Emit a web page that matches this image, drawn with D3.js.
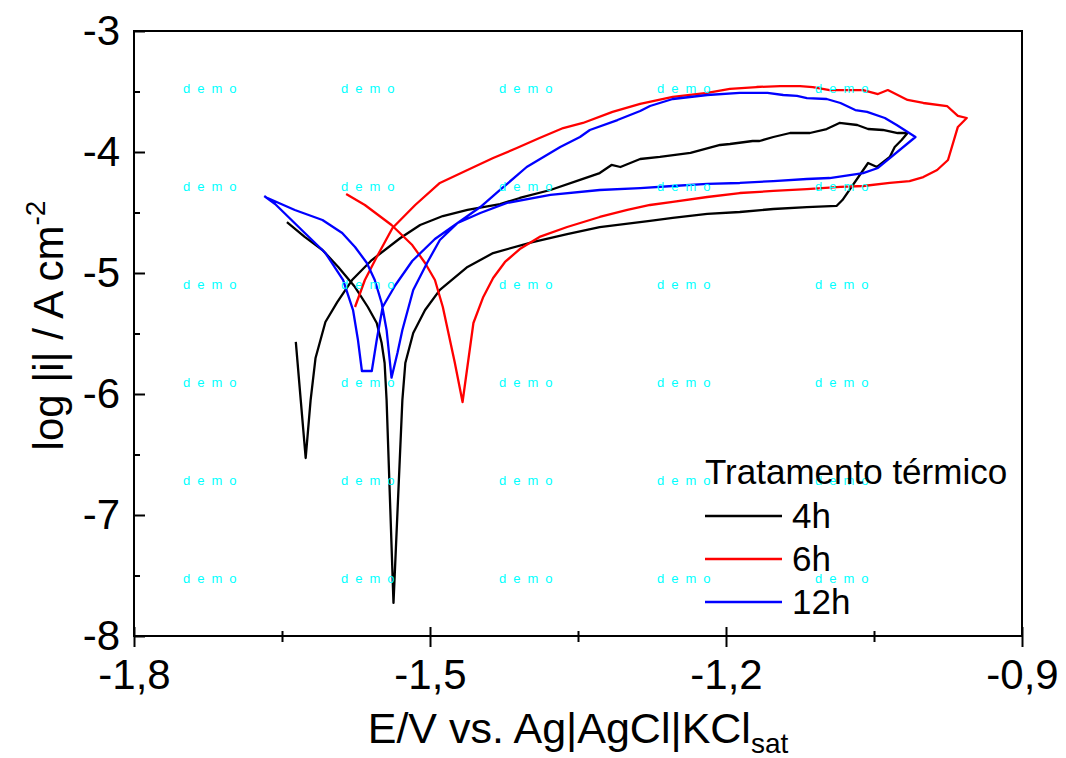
<!DOCTYPE html>
<html>
<head>
    <meta charset='utf-8'>
    <title>Polarização cíclica</title>
    <style type="text/css">
        body { margin: 0; background: #fff; }
        svg { font-family: "Liberation Sans", Arial, sans-serif; }
        .curve { fill: none; stroke-width: 2.3; stroke-linejoin: round; }
        .axis path { display: none; }
        .axis line { stroke: #000; stroke-width: 2; }
        .axis text { font-size: 42px; fill: #000; }
        .mark { fill: #00ffff; font-size: 13px; letter-spacing: 7px; }
    </style>
</head>
<body>
    <script src="https://cdn.jsdelivr.net/npm/d3@7"></script>

    <div id="svgContainer"></div>

    <script type="text/javascript">

        // cyclic polarization curves, E in V vs Ag|AgCl|KCl sat, log|i| in A cm-2
        const E_4h = [-1.636,-1.631,-1.626,-1.621,-1.616,-1.606,-1.594,-1.579,-1.559,-1.530,-1.510,-1.487,-1.462,-1.429,-1.409,-1.378,-1.348,-1.328,-1.316,-1.307,-1.287,-1.267,-1.236,-1.206,-1.196,-1.173,-1.166,-1.152,-1.135,-1.115,-1.098,-1.085,-1.067,-1.056,-1.041,-1.026,-1.016,-1.022,-1.029,-1.034,-1.047,-1.056,-1.082,-1.088,-1.118,-1.152,-1.186,-1.219,-1.254,-1.277,-1.328,-1.361,-1.396,-1.436,-1.462,-1.490,-1.505,-1.517,-1.525,-1.528,-1.537,-1.544,-1.546,-1.549,-1.554,-1.563,-1.576,-1.593,-1.609,-1.627,-1.645];
        const logI_4h = [-5.570,-6.050,-6.529,-6.050,-5.702,-5.405,-5.240,-5.058,-4.893,-4.711,-4.603,-4.529,-4.479,-4.430,-4.380,-4.314,-4.231,-4.174,-4.107,-4.124,-4.058,-4.041,-4.008,-3.942,-3.934,-3.909,-3.909,-3.876,-3.843,-3.843,-3.810,-3.760,-3.777,-3.810,-3.818,-3.843,-3.843,-3.901,-3.959,-4.041,-4.124,-4.091,-4.397,-4.446,-4.455,-4.471,-4.496,-4.512,-4.545,-4.570,-4.620,-4.678,-4.744,-4.835,-4.950,-5.140,-5.306,-5.496,-5.744,-6.050,-7.727,-6.050,-5.744,-5.579,-5.413,-5.281,-5.116,-4.950,-4.810,-4.702,-4.579];

        const E_6h = [-1.576,-1.566,-1.554,-1.538,-1.515,-1.490,-1.462,-1.436,-1.412,-1.389,-1.365,-1.345,-1.315,-1.287,-1.254,-1.219,-1.196,-1.169,-1.145,-1.125,-1.112,-1.095,-1.061,-1.046,-1.036,-1.016,-1.000,-0.976,-0.965,-0.956,-0.965,-0.975,-0.986,-1.000,-1.014,-1.034,-1.061,-1.084,-1.118,-1.152,-1.186,-1.219,-1.254,-1.277,-1.300,-1.328,-1.361,-1.389,-1.409,-1.424,-1.436,-1.446,-1.456,-1.467,-1.475,-1.487,-1.495,-1.505,-1.518,-1.539,-1.566,-1.585];
        const logI_6h = [-5.281,-5.058,-4.868,-4.628,-4.438,-4.256,-4.149,-4.050,-3.967,-3.884,-3.802,-3.760,-3.669,-3.603,-3.545,-3.512,-3.479,-3.463,-3.455,-3.455,-3.463,-3.488,-3.488,-3.521,-3.488,-3.570,-3.595,-3.620,-3.702,-3.719,-3.793,-4.066,-4.149,-4.207,-4.240,-4.256,-4.281,-4.289,-4.306,-4.322,-4.339,-4.372,-4.413,-4.438,-4.479,-4.537,-4.620,-4.702,-4.802,-4.909,-5.041,-5.198,-5.413,-6.066,-5.736,-5.281,-5.058,-4.917,-4.769,-4.603,-4.438,-4.347];

        const E_12h = [-1.668,-1.657,-1.630,-1.606,-1.588,-1.578,-1.573,-1.569,-1.559,-1.554,-1.548,-1.535,-1.518,-1.495,-1.472,-1.449,-1.422,-1.378,-1.328,-1.287,-1.254,-1.219,-1.186,-1.152,-1.118,-1.095,-1.061,-1.046,-1.008,-1.027,-1.039,-1.057,-1.069,-1.084,-1.098,-1.118,-1.128,-1.142,-1.158,-1.186,-1.219,-1.254,-1.277,-1.287,-1.310,-1.338,-1.348,-1.368,-1.402,-1.429,-1.449,-1.472,-1.490,-1.503,-1.517,-1.528,-1.533,-1.539,-1.544,-1.549,-1.556,-1.564,-1.576,-1.589,-1.609,-1.637,-1.667];
        const logI_12h = [-4.364,-4.430,-4.645,-4.835,-5.058,-5.306,-5.554,-5.810,-5.810,-5.554,-5.281,-5.099,-4.901,-4.719,-4.587,-4.504,-4.421,-4.355,-4.314,-4.298,-4.281,-4.264,-4.256,-4.240,-4.223,-4.215,-4.174,-4.132,-3.876,-3.777,-3.719,-3.669,-3.653,-3.595,-3.562,-3.554,-3.537,-3.529,-3.512,-3.512,-3.529,-3.562,-3.620,-3.661,-3.736,-3.818,-3.876,-3.959,-4.124,-4.314,-4.455,-4.587,-4.727,-4.917,-5.140,-5.471,-5.661,-5.865,-5.471,-5.248,-5.058,-4.917,-4.785,-4.669,-4.562,-4.479,-4.372];

        const seriesNames = ["4h", "6h", "12h"];
        const seriesColors = ["#000000", "#ff0000", "#0000ff"];
        const legendTitle = "Tratamento térmico";

        const xTicks = [-1.8, -1.5, -1.2, -0.9];
        const xMinorTicks = [-1.65, -1.35, -1.05];
        const yTicks = [-8, -7, -6, -5, -4, -3];
        const yMinorTicks = [-7.5, -6.5, -5.5, -4.5, -3.5];

        const width = 1066;
        const height = 758;
        const margin = {top: 31, right: 44, bottom: 122, left: 134};
        const plotW = width - margin.left - margin.right;
        const plotH = height - margin.top - margin.bottom;

        const svg = d3.select("#svgContainer").append("svg")
            .attr("width", width)
            .attr("height", height);

        const x = d3.scaleLinear().domain([-1.8, -0.9]).range([0, plotW]);
        const y = d3.scaleLinear().domain([-8, -3]).range([plotH, 0]);

        const g = svg.append("g")
            .attr("transform", `translate(${margin.left},${margin.top})`);

        const comma = d => d.toFixed(1).replace(".", ",");

        // x axis, ticks cross the axis line
        const xAxis = g.append("g")
            .attr("class", "axis")
            .attr("transform", `translate(0,${plotH})`)
            .call(d3.axisBottom(x).tickValues(xTicks).tickFormat(comma)
                .tickSize(11).tickSizeOuter(0).tickPadding(12));
        xAxis.selectAll("line").attr("y1", -9);

        const xMinor = g.append("g")
            .attr("class", "axis")
            .attr("transform", `translate(0,${plotH})`)
            .call(d3.axisBottom(x).tickValues(xMinorTicks).tickFormat("")
                .tickSize(6).tickSizeOuter(0));
        xMinor.selectAll("line").attr("y1", -5);

        // y axis, ticks inward
        g.append("g")
            .attr("class", "axis")
            .call(d3.axisLeft(y).tickValues(yTicks).tickFormat(d => String(d))
                .tickSize(-11).tickSizeOuter(0).tickPadding(14));

        g.append("g")
            .attr("class", "axis")
            .call(d3.axisLeft(y).tickValues(yMinorTicks).tickFormat("")
                .tickSize(-6).tickSizeOuter(0));

        g.append("rect")
            .attr("width", plotW)
            .attr("height", plotH)
            .attr("fill", "none")
            .attr("stroke", "#000")
            .attr("stroke-width", 2);

        const series = [
            {name: seriesNames[0], color: seriesColors[0], values: d3.zip(E_4h, logI_4h)},
            {name: seriesNames[1], color: seriesColors[1], values: d3.zip(E_6h, logI_6h)},
            {name: seriesNames[2], color: seriesColors[2], values: d3.zip(E_12h, logI_12h)}
        ];

        const line = d3.line()
            .x(d => x(d[0]))
            .y(d => y(d[1]));

        g.append("g")
            .selectAll("path")
            .data(series)
            .join("path")
            .attr("class", "curve")
            .attr("stroke", d => d.color)
            .attr("d", d => line(d.values));

        // watermark grid
        const marks = g.append("g");
        for (let i = 0; i < 5; i++) {
            for (let j = 0; j < 6; j++) {
                marks.append("text")
                    .attr("class", "mark")
                    .attr("x", 49 + i * 158)
                    .attr("y", 62 + j * 98)
                    .text("demo");
            }
        }

        // legend
        const legend = g.append("g")
            .attr("transform", "translate(571,453)");
        legend.append("text")
            .attr("x", 0)
            .attr("y", 0)
            .attr("font-size", 35)
            .text(legendTitle);
        const items = legend.selectAll(".item")
            .data(series)
            .join("g")
            .attr("class", "item")
            .attr("transform", (d, i) => `translate(0,${32 + i * 43})`);
        items.append("line")
            .attr("x1", 0).attr("x2", 77)
            .attr("stroke", d => d.color)
            .attr("stroke-width", 2.3);
        items.append("text")
            .attr("x", 87)
            .attr("y", 12)
            .attr("font-size", 35)
            .text(d => d.name);

        // axis titles
        const xTitle = svg.append("text")
            .attr("x", margin.left + plotW / 2)
            .attr("y", 743)
            .attr("text-anchor", "middle")
            .attr("font-size", 43);
        xTitle.append("tspan").text("E/V vs. Ag|AgCl|KCl");
        xTitle.append("tspan").attr("font-size", 28).attr("dy", 10).text("sat");

        const yTitle = svg.append("text")
            .attr("transform", `translate(63,${margin.top + plotH / 2 - 8}) rotate(-90)`)
            .attr("text-anchor", "middle")
            .attr("font-size", 42);
        yTitle.append("tspan").text("log |i| / A cm");
        yTitle.append("tspan").attr("font-size", 28).attr("dy", -18).text("-2");

    </script>
</body>
</html>
